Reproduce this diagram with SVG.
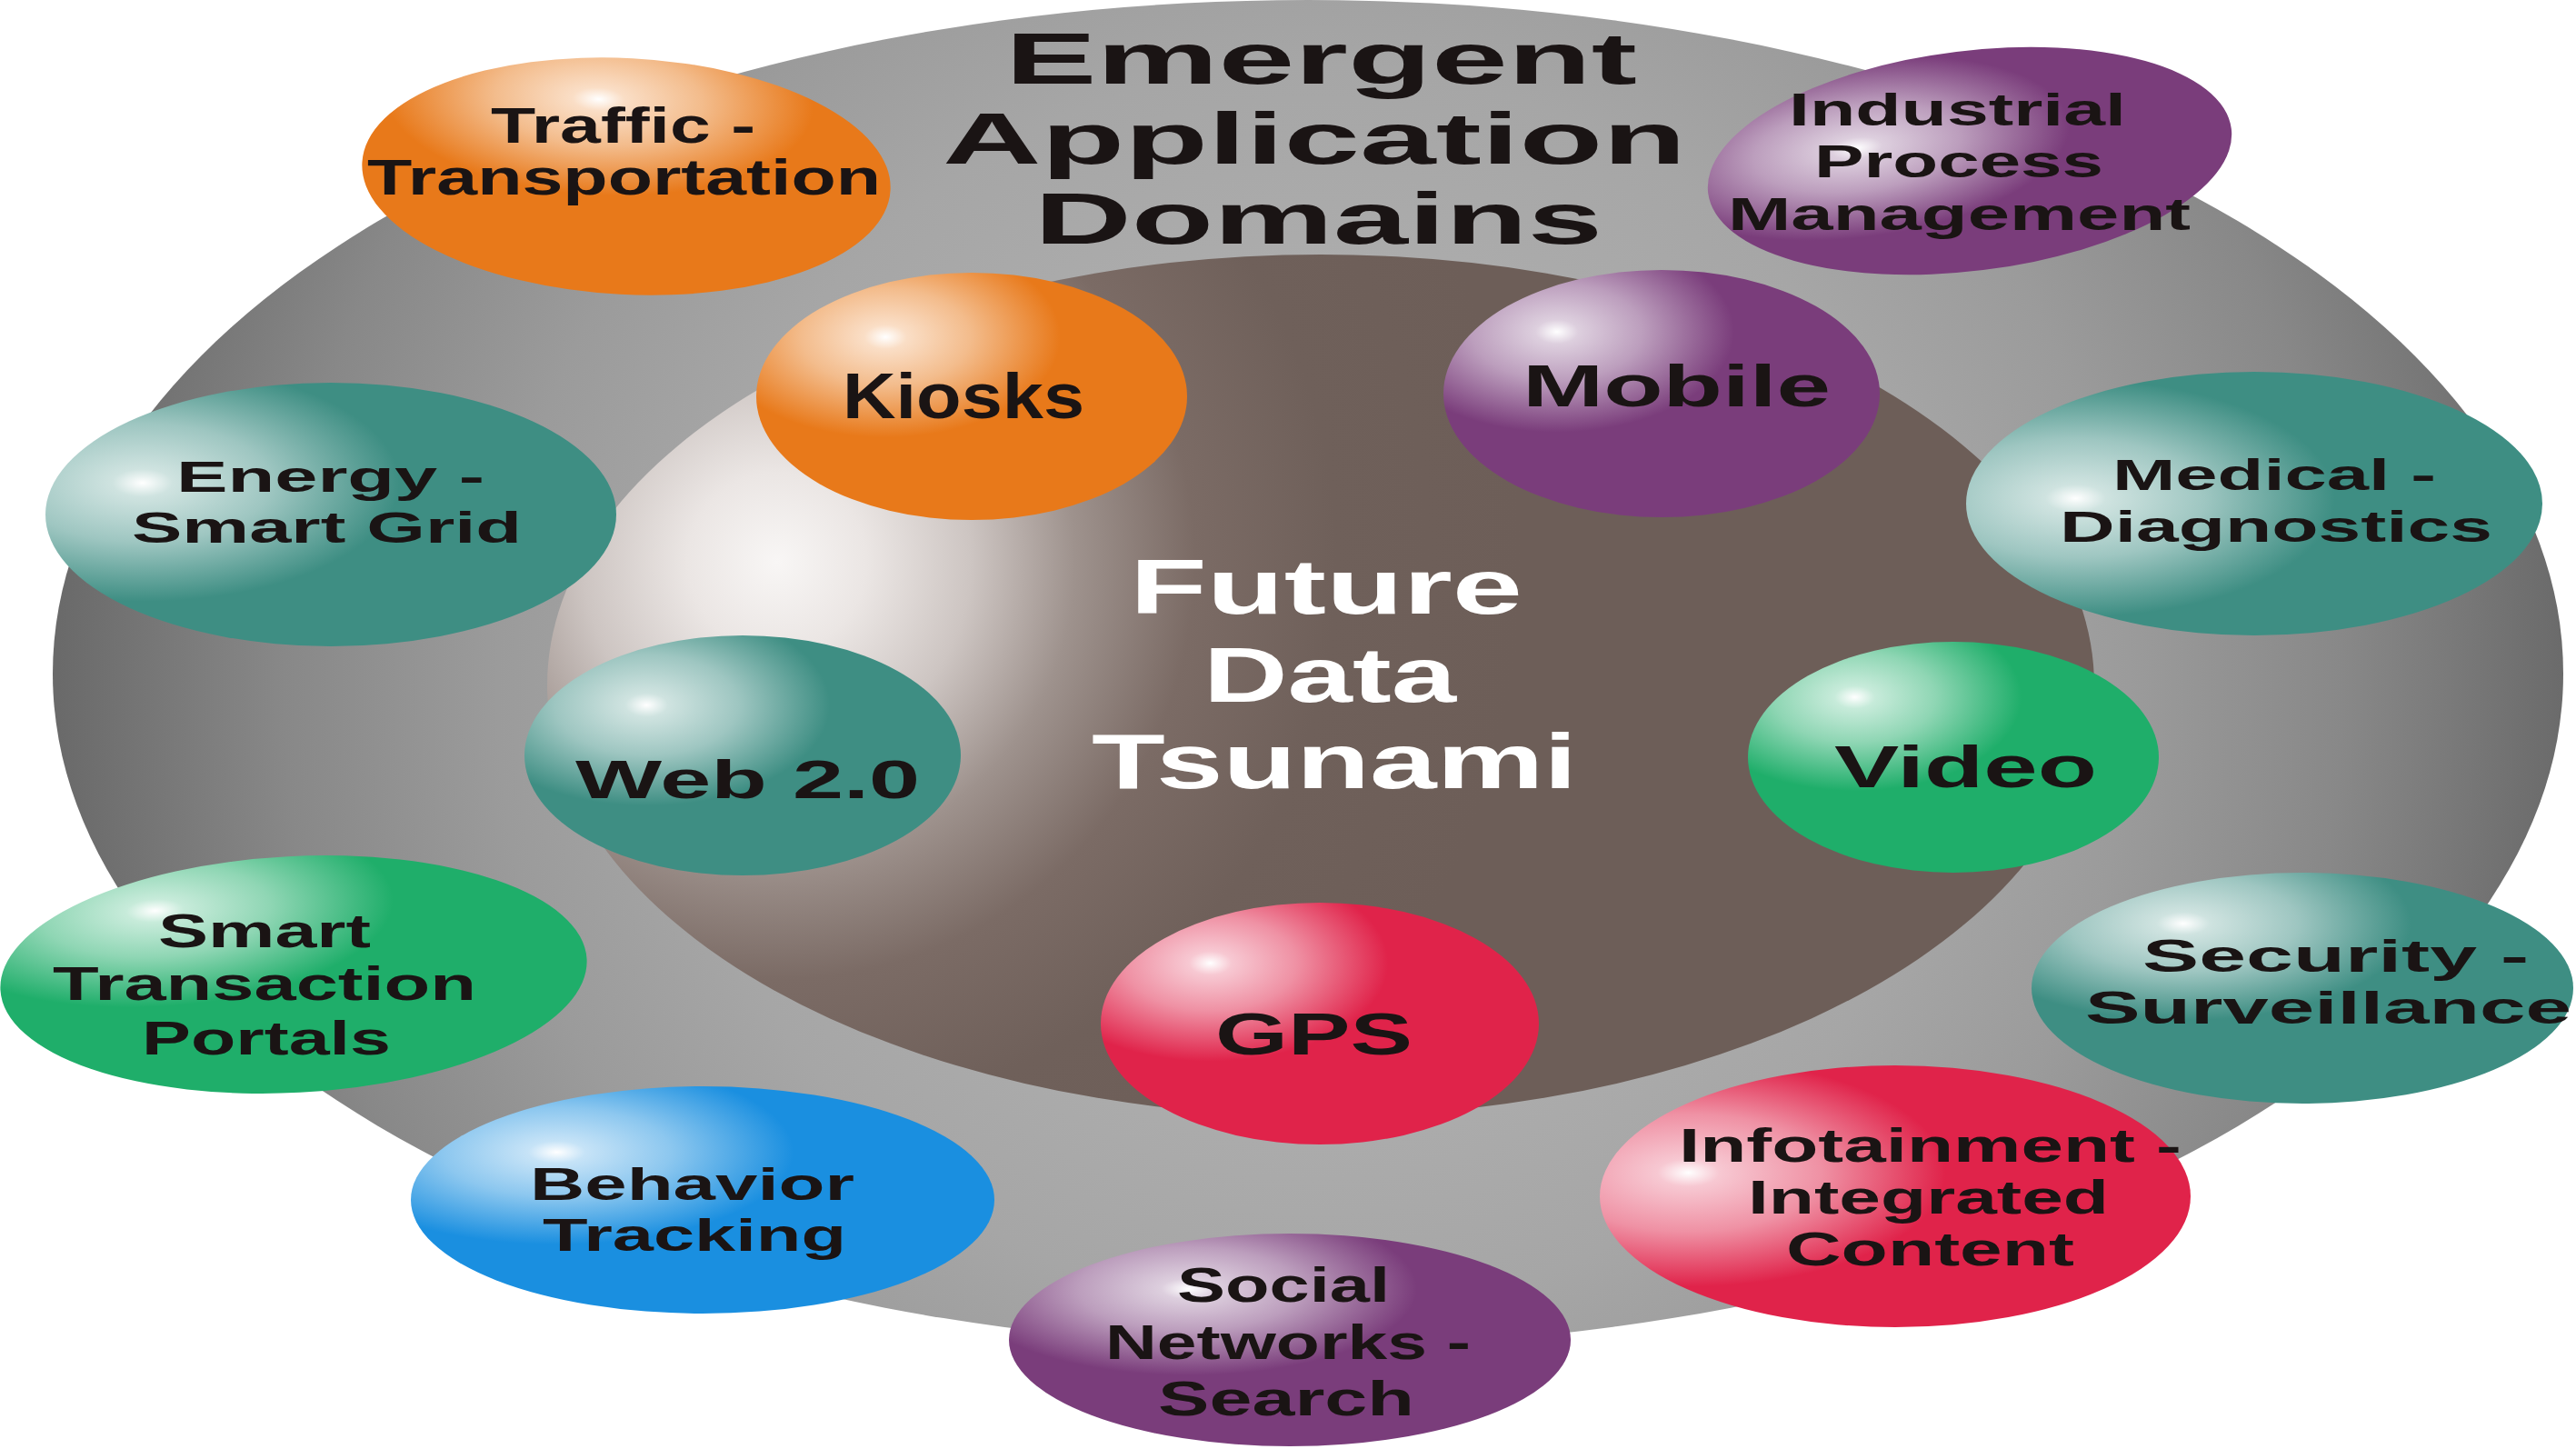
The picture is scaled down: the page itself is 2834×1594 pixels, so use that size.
<svg xmlns="http://www.w3.org/2000/svg" width="2834" height="1594" viewBox="0 0 2834 1594">
<style>
text{font-family:"Liberation Sans",Arial,sans-serif;font-weight:bold;fill:#1a1414}
.title{font-size:80px}
.center{font-size:86px;fill:#ffffff}
</style>
<defs>
<radialGradient id="gOuter" gradientUnits="userSpaceOnUse" cx="1445" cy="760" r="1381">
<stop offset="0" stop-color="#b8b8b8"/>
<stop offset="0.5" stop-color="#a6a6a6"/>
<stop offset="0.65" stop-color="#9b9b9b"/>
<stop offset="0.82" stop-color="#888888"/>
<stop offset="1" stop-color="#6a6a6a"/>
</radialGradient>
<radialGradient id="gInner" gradientUnits="userSpaceOnUse" cx="855" cy="618" r="820">
<stop offset="0" stop-color="#f8f6f5"/>
<stop offset="0.12" stop-color="#ebe6e4"/>
<stop offset="0.26" stop-color="#cdc5c2"/>
<stop offset="0.4" stop-color="#9e928d"/>
<stop offset="0.56" stop-color="#7b6b65"/>
<stop offset="0.75" stop-color="#6f605a"/>
<stop offset="1" stop-color="#6d5e58"/>
</radialGradient>
<!-- orange -->
<radialGradient id="gTraffic" cx="0.44" cy="0.18" fx="0.44" fy="0.18" r="0.7"><stop offset="0" stop-color="#ffffff"/><stop offset="0.07" stop-color="#fadec6"/><stop offset="0.28" stop-color="#f3bc8c"/><stop offset="0.58" stop-color="#e8791a"/><stop offset="1" stop-color="#e8791a"/></radialGradient>
<radialGradient id="gKiosks" cx="0.3" cy="0.26" fx="0.3" fy="0.26" r="0.7"><stop offset="0" stop-color="#ffffff"/><stop offset="0.07" stop-color="#fadec6"/><stop offset="0.28" stop-color="#f3bc8c"/><stop offset="0.58" stop-color="#e8791a"/><stop offset="1" stop-color="#e8791a"/></radialGradient>
<!-- purple -->
<radialGradient id="gIndustrial" cx="0.29" cy="0.38" fx="0.29" fy="0.38" r="0.7"><stop offset="0" stop-color="#ffffff"/><stop offset="0.07" stop-color="#ddcfde"/><stop offset="0.28" stop-color="#bc9ebd"/><stop offset="0.58" stop-color="#7a3d7b"/><stop offset="1" stop-color="#7a3d7b"/></radialGradient>
<radialGradient id="gMobile" cx="0.26" cy="0.25" fx="0.26" fy="0.25" r="0.7"><stop offset="0" stop-color="#ffffff"/><stop offset="0.07" stop-color="#ddcfde"/><stop offset="0.28" stop-color="#bc9ebd"/><stop offset="0.58" stop-color="#7a3d7b"/><stop offset="1" stop-color="#7a3d7b"/></radialGradient>
<radialGradient id="gSocial" cx="0.32" cy="0.26" fx="0.32" fy="0.26" r="0.7"><stop offset="0" stop-color="#ffffff"/><stop offset="0.07" stop-color="#ddcfde"/><stop offset="0.28" stop-color="#bc9ebd"/><stop offset="0.58" stop-color="#7a3d7b"/><stop offset="1" stop-color="#7a3d7b"/></radialGradient>
<!-- teal -->
<radialGradient id="gEnergy" cx="0.17" cy="0.38" fx="0.17" fy="0.38" r="0.75"><stop offset="0" stop-color="#ffffff"/><stop offset="0.07" stop-color="#cfe3e0"/><stop offset="0.3" stop-color="#9ec6c1"/><stop offset="0.6" stop-color="#3e8e83"/><stop offset="1" stop-color="#3e8e83"/></radialGradient>
<radialGradient id="gMedical" cx="0.19" cy="0.48" fx="0.19" fy="0.48" r="0.75"><stop offset="0" stop-color="#ffffff"/><stop offset="0.07" stop-color="#cfe3e0"/><stop offset="0.3" stop-color="#9ec6c1"/><stop offset="0.6" stop-color="#3e8e83"/><stop offset="1" stop-color="#3e8e83"/></radialGradient>
<radialGradient id="gWeb" cx="0.28" cy="0.29" fx="0.28" fy="0.29" r="0.7"><stop offset="0" stop-color="#ffffff"/><stop offset="0.07" stop-color="#cfe3e0"/><stop offset="0.3" stop-color="#9ec6c1"/><stop offset="0.6" stop-color="#3e8e83"/><stop offset="1" stop-color="#3e8e83"/></radialGradient>
<radialGradient id="gSecurity" cx="0.28" cy="0.22" fx="0.28" fy="0.22" r="0.7"><stop offset="0" stop-color="#ffffff"/><stop offset="0.07" stop-color="#cfe3e0"/><stop offset="0.3" stop-color="#9ec6c1"/><stop offset="0.6" stop-color="#3e8e83"/><stop offset="1" stop-color="#3e8e83"/></radialGradient>
<!-- green -->
<radialGradient id="gVideo" cx="0.26" cy="0.24" fx="0.26" fy="0.24" r="0.7"><stop offset="0" stop-color="#ffffff"/><stop offset="0.07" stop-color="#c7ebda"/><stop offset="0.28" stop-color="#8fd6b4"/><stop offset="0.58" stop-color="#1fae6a"/><stop offset="1" stop-color="#1fae6a"/></radialGradient>
<radialGradient id="gSmart" cx="0.27" cy="0.2" fx="0.27" fy="0.2" r="0.7"><stop offset="0" stop-color="#ffffff"/><stop offset="0.07" stop-color="#c7ebda"/><stop offset="0.28" stop-color="#8fd6b4"/><stop offset="0.58" stop-color="#1fae6a"/><stop offset="1" stop-color="#1fae6a"/></radialGradient>
<!-- red -->
<radialGradient id="gGPS" cx="0.25" cy="0.25" fx="0.25" fy="0.25" r="0.7"><stop offset="0" stop-color="#ffffff"/><stop offset="0.07" stop-color="#f7c8d2"/><stop offset="0.28" stop-color="#ef91a4"/><stop offset="0.58" stop-color="#e0234a"/><stop offset="1" stop-color="#e0234a"/></radialGradient>
<radialGradient id="gInfo" cx="0.15" cy="0.41" fx="0.15" fy="0.41" r="0.75"><stop offset="0" stop-color="#ffffff"/><stop offset="0.07" stop-color="#f7c8d2"/><stop offset="0.3" stop-color="#ef91a4"/><stop offset="0.58" stop-color="#e0234a"/><stop offset="1" stop-color="#e0234a"/></radialGradient>
<!-- blue -->
<radialGradient id="gBehavior" cx="0.25" cy="0.29" fx="0.25" fy="0.29" r="0.7"><stop offset="0" stop-color="#ffffff"/><stop offset="0.07" stop-color="#c6e3f7"/><stop offset="0.28" stop-color="#8cc7ef"/><stop offset="0.58" stop-color="#1a8fe0"/><stop offset="1" stop-color="#1a8fe0"/></radialGradient>
</defs>

<rect width="2834" height="1594" fill="#ffffff"/>

<g id="outer-domain">
<ellipse cx="1439" cy="741" rx="1381" ry="741" fill="url(#gOuter)"/>
<text class="title" x="1106" y="92" textLength="695" lengthAdjust="spacingAndGlyphs">Emergent</text>
<text class="title" x="1037" y="180" textLength="818" lengthAdjust="spacingAndGlyphs">Application</text>
<text class="title" x="1138" y="268" textLength="625" lengthAdjust="spacingAndGlyphs">Domains</text>
</g>

<g id="inner-tsunami">
<ellipse cx="1453" cy="754" rx="851" ry="474" fill="url(#gInner)"/>
<text class="center" x="1243" y="675" textLength="432" lengthAdjust="spacingAndGlyphs">Future</text>
<text class="center" x="1324" y="772" textLength="278" lengthAdjust="spacingAndGlyphs">Data</text>
<text class="center" x="1201" y="867" textLength="534" lengthAdjust="spacingAndGlyphs">Tsunami</text>
</g>

<g id="connectors"></g>

<g id="node-traffic">
<ellipse cx="689" cy="194" rx="291" ry="130" transform="rotate(3 689 194)" fill="url(#gTraffic)"/>
<text x="540" y="157" font-size="56" textLength="291" lengthAdjust="spacingAndGlyphs">Traffic -</text>
<text x="404" y="214" font-size="56" textLength="565" lengthAdjust="spacingAndGlyphs">Transportation</text>
</g>

<g id="node-industrial">
<ellipse cx="2167" cy="177" rx="290" ry="121" transform="rotate(-7 2167 177)" fill="url(#gIndustrial)"/>
<text x="1968" y="138" font-size="50" textLength="371" lengthAdjust="spacingAndGlyphs">Industrial</text>
<text x="1996" y="195" font-size="50" textLength="318" lengthAdjust="spacingAndGlyphs">Process</text>
<text x="1901" y="253" font-size="50" textLength="509" lengthAdjust="spacingAndGlyphs">Management</text>
</g>

<g id="node-kiosks">
<ellipse cx="1069" cy="436" rx="237" ry="136" fill="url(#gKiosks)"/>
<text x="927" y="460" font-size="70" textLength="266" lengthAdjust="spacingAndGlyphs">Kiosks</text>
</g>

<g id="node-mobile">
<ellipse cx="1828" cy="433" rx="240" ry="136" fill="url(#gMobile)"/>
<text x="1675" y="447" font-size="64" textLength="339" lengthAdjust="spacingAndGlyphs">Mobile</text>
</g>

<g id="node-energy">
<ellipse cx="364" cy="566" rx="314" ry="145" fill="url(#gEnergy)"/>
<text x="194" y="541" font-size="49" textLength="339" lengthAdjust="spacingAndGlyphs">Energy -</text>
<text x="145" y="597" font-size="49" textLength="429" lengthAdjust="spacingAndGlyphs">Smart Grid</text>
</g>

<g id="node-medical">
<ellipse cx="2480" cy="554" rx="317" ry="145" fill="url(#gMedical)"/>
<text x="2324" y="539" font-size="49" textLength="356" lengthAdjust="spacingAndGlyphs">Medical -</text>
<text x="2266" y="596" font-size="49" textLength="476" lengthAdjust="spacingAndGlyphs">Diagnostics</text>
</g>

<g id="node-web">
<ellipse cx="817" cy="831" rx="240" ry="132" fill="url(#gWeb)"/>
<text x="633" y="878" font-size="60" textLength="379" lengthAdjust="spacingAndGlyphs">Web 2.0</text>
</g>

<g id="node-video">
<ellipse cx="2149" cy="833" rx="226" ry="127" fill="url(#gVideo)"/>
<text x="2018" y="866" font-size="64" textLength="289" lengthAdjust="spacingAndGlyphs">Video</text>
</g>

<g id="node-smart-transaction">
<ellipse cx="323" cy="1072" rx="323" ry="130" transform="rotate(-3 323 1072)" fill="url(#gSmart)"/>
<text x="174" y="1042" font-size="52" textLength="234" lengthAdjust="spacingAndGlyphs">Smart</text>
<text x="58" y="1100" font-size="52" textLength="466" lengthAdjust="spacingAndGlyphs">Transaction</text>
<text x="156" y="1160" font-size="52" textLength="274" lengthAdjust="spacingAndGlyphs">Portals</text>
</g>

<g id="node-security">
<ellipse cx="2533" cy="1087" rx="298" ry="127" fill="url(#gSecurity)"/>
<text x="2357" y="1069" font-size="50" textLength="425" lengthAdjust="spacingAndGlyphs">Security -</text>
<text x="2294" y="1126" font-size="50" textLength="535" lengthAdjust="spacingAndGlyphs">Surveillance</text>
</g>

<g id="node-gps">
<ellipse cx="1452" cy="1126" rx="241" ry="133" fill="url(#gGPS)"/>
<text x="1337" y="1160" font-size="64" textLength="217" lengthAdjust="spacingAndGlyphs">GPS</text>
</g>

<g id="node-behavior">
<ellipse cx="773" cy="1320" rx="321" ry="125" fill="url(#gBehavior)"/>
<text x="583" y="1320" font-size="50" textLength="357" lengthAdjust="spacingAndGlyphs">Behavior</text>
<text x="597" y="1376" font-size="50" textLength="334" lengthAdjust="spacingAndGlyphs">Tracking</text>
</g>

<g id="node-infotainment">
<ellipse cx="2085" cy="1316" rx="325" ry="144" fill="url(#gInfo)"/>
<text x="1847" y="1278" font-size="52" textLength="553" lengthAdjust="spacingAndGlyphs">Infotainment -</text>
<text x="1923" y="1335" font-size="52" textLength="397" lengthAdjust="spacingAndGlyphs">Integrated</text>
<text x="1965" y="1392" font-size="52" textLength="317" lengthAdjust="spacingAndGlyphs">Content</text>
</g>

<g id="node-social">
<ellipse cx="1419" cy="1474" rx="309" ry="117" fill="url(#gSocial)"/>
<text x="1295" y="1432" font-size="54" textLength="234" lengthAdjust="spacingAndGlyphs">Social</text>
<text x="1216" y="1495" font-size="54" textLength="402" lengthAdjust="spacingAndGlyphs">Networks -</text>
<text x="1274" y="1557" font-size="54" textLength="282" lengthAdjust="spacingAndGlyphs">Search</text>
</g>
</svg>
